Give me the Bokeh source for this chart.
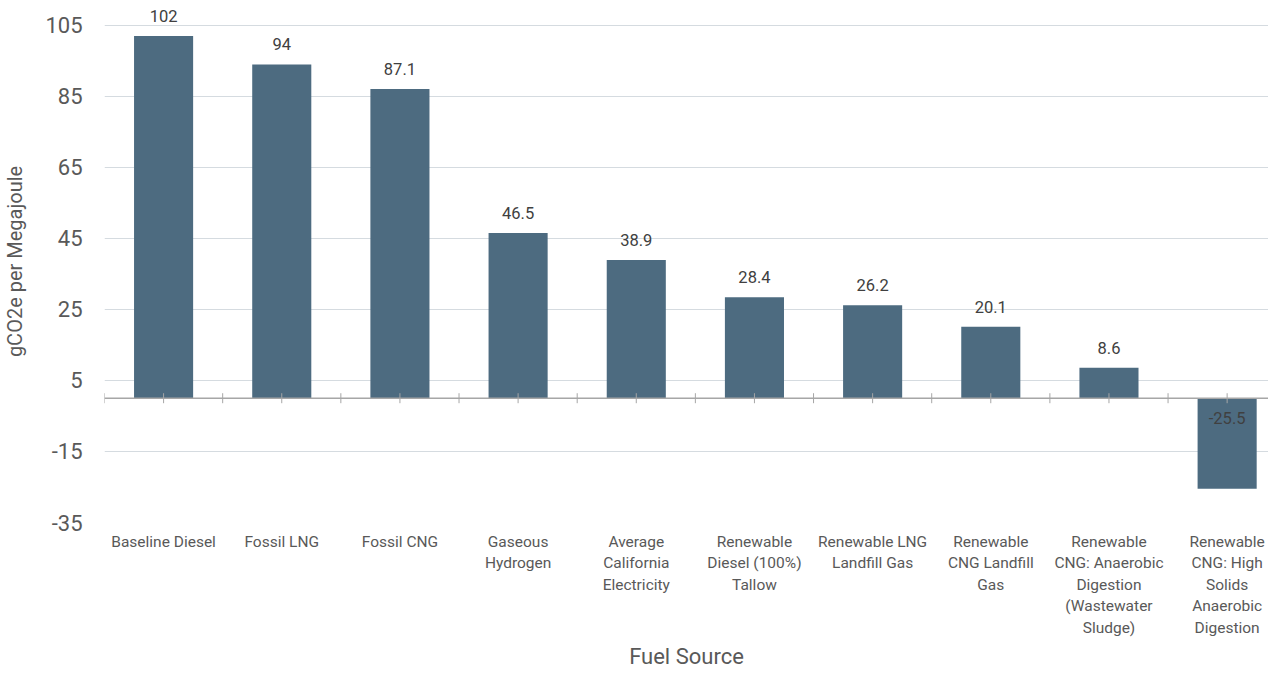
import math
from bokeh.plotting import figure
from bokeh.models import ColumnDataSource, Range1d, FixedTicker, Span
from bokeh.core.properties import value
from bokeh.embed import file_html
from bokeh.resources import INLINE

categories = [
    "Baseline Diesel",
    "Fossil LNG",
    "Fossil CNG",
    "Gaseous\nHydrogen",
    "Average\nCalifornia\nElectricity",
    "Renewable\nDiesel (100%)\nTallow",
    "Renewable LNG\nLandfill Gas",
    "Renewable\nCNG Landfill\nGas",
    "Renewable\nCNG: Anaerobic\nDigestion\n(Wastewater\nSludge)",
    "Renewable\nCNG: High\nSolids\nAnaerobic\nDigestion",
]
values = [102, 94, 87.1, 46.5, 38.9, 28.4, 26.2, 20.1, 8.6, -25.5]
labels = ["102", "94", "87.1", "46.5", "38.9", "28.4", "26.2", "20.1", "8.6", "-25.5"]
y_ticks = [-35, -15, 5, 25, 45, 65, 85, 105]

FONT = "Roboto"
BAR = "#4d6b80"

n = len(categories)
xs = [i + 0.5 for i in range(n)]
bottoms = [min(0, v) for v in values]
tops = [max(0, v) for v in values]
label_y = [v if v >= 0 else 0 for v in values]
label_off = [-20 if v >= 0 else 20 for v in values]

src = ColumnDataSource(dict(x=xs, top=tops, bottom=bottoms, ly=label_y, lo=label_off, lab=labels))

# the original chart's plot area runs past the right edge of the picture
p = figure(width=1268, height=671, output_backend="svg", toolbar_location=None,
           x_range=Range1d(0, 9.85), y_range=Range1d(-35, 112))
p.outline_line_color = None
p.min_border_top = 0
p.min_border_right = 0
p.min_border_left = 100
p.background_fill_color = "white"
p.border_fill_color = "white"

p.vbar(x="x", top="top", bottom="bottom", width=0.5, source=src,
       fill_color=BAR, line_color=None)

# zero line
p.add_layout(Span(location=0, dimension="width", line_color="#a6a6a6", line_width=1.5))
# tick marks on the zero line (category boundaries and centres)
tick_x = [i * 0.5 for i in range(2 * n + 1)]
p.scatter(x=tick_x, y=[0] * len(tick_x), marker="dash", size=10, angle=math.pi / 2,
          line_color="#a6a6a6", line_width=1)

p.text(x="x", y="ly", text="lab", source=src, y_offset="lo",
       text_align="center", text_baseline="middle",
       text_font=value(FONT), text_font_size="16.5px", text_color="#404040")

# grid
p.xgrid.visible = False
p.ygrid.ticker = FixedTicker(ticks=y_ticks)
p.ygrid.grid_line_color = "#d5dbe0"
p.ygrid.grid_line_width = 1.2

# y axis
p.yaxis.ticker = FixedTicker(ticks=y_ticks)
p.yaxis.major_label_overrides = {t: str(t) for t in y_ticks}
p.yaxis.axis_line_color = None
p.yaxis.major_tick_line_color = None
p.yaxis.major_tick_out = 0
p.yaxis.major_tick_in = 0
p.yaxis.minor_tick_line_color = None
p.yaxis.minor_tick_out = 0
p.yaxis.major_label_standoff = 22
p.yaxis.major_label_text_font = FONT
p.yaxis.major_label_text_font_size = "22px"
p.yaxis.major_label_text_color = "#595959"
p.yaxis.axis_label = "gCO2e per Megajoule"
p.yaxis.axis_label_text_font = FONT
p.yaxis.axis_label_text_font_size = "20px"
p.yaxis.axis_label_text_font_style = "normal"
p.yaxis.axis_label_text_color = "#595959"
p.yaxis.axis_label_standoff = 15

# x axis
p.xaxis.ticker = FixedTicker(ticks=xs)
p.xaxis.major_label_overrides = {x: c for x, c in zip(xs, categories)}
p.xaxis.axis_line_color = None
p.xaxis.major_tick_line_color = None
p.xaxis.major_tick_out = 0
p.xaxis.major_tick_in = 0
p.xaxis.minor_tick_line_color = None
p.xaxis.minor_tick_out = 0
p.xaxis.major_label_standoff = 10
p.xaxis.major_label_text_font = FONT
p.xaxis.major_label_text_font_size = "15.5px"
p.xaxis.major_label_text_color = "#595959"
p.xaxis.axis_label = "Fuel Source"
p.xaxis.axis_label_text_font = FONT
p.xaxis.axis_label_text_font_size = "22px"
p.xaxis.axis_label_text_font_style = "normal"
p.xaxis.axis_label_text_color = "#595959"
p.xaxis.axis_label_standoff = 4

open("out.html", "w").write(file_html(p, INLINE))
